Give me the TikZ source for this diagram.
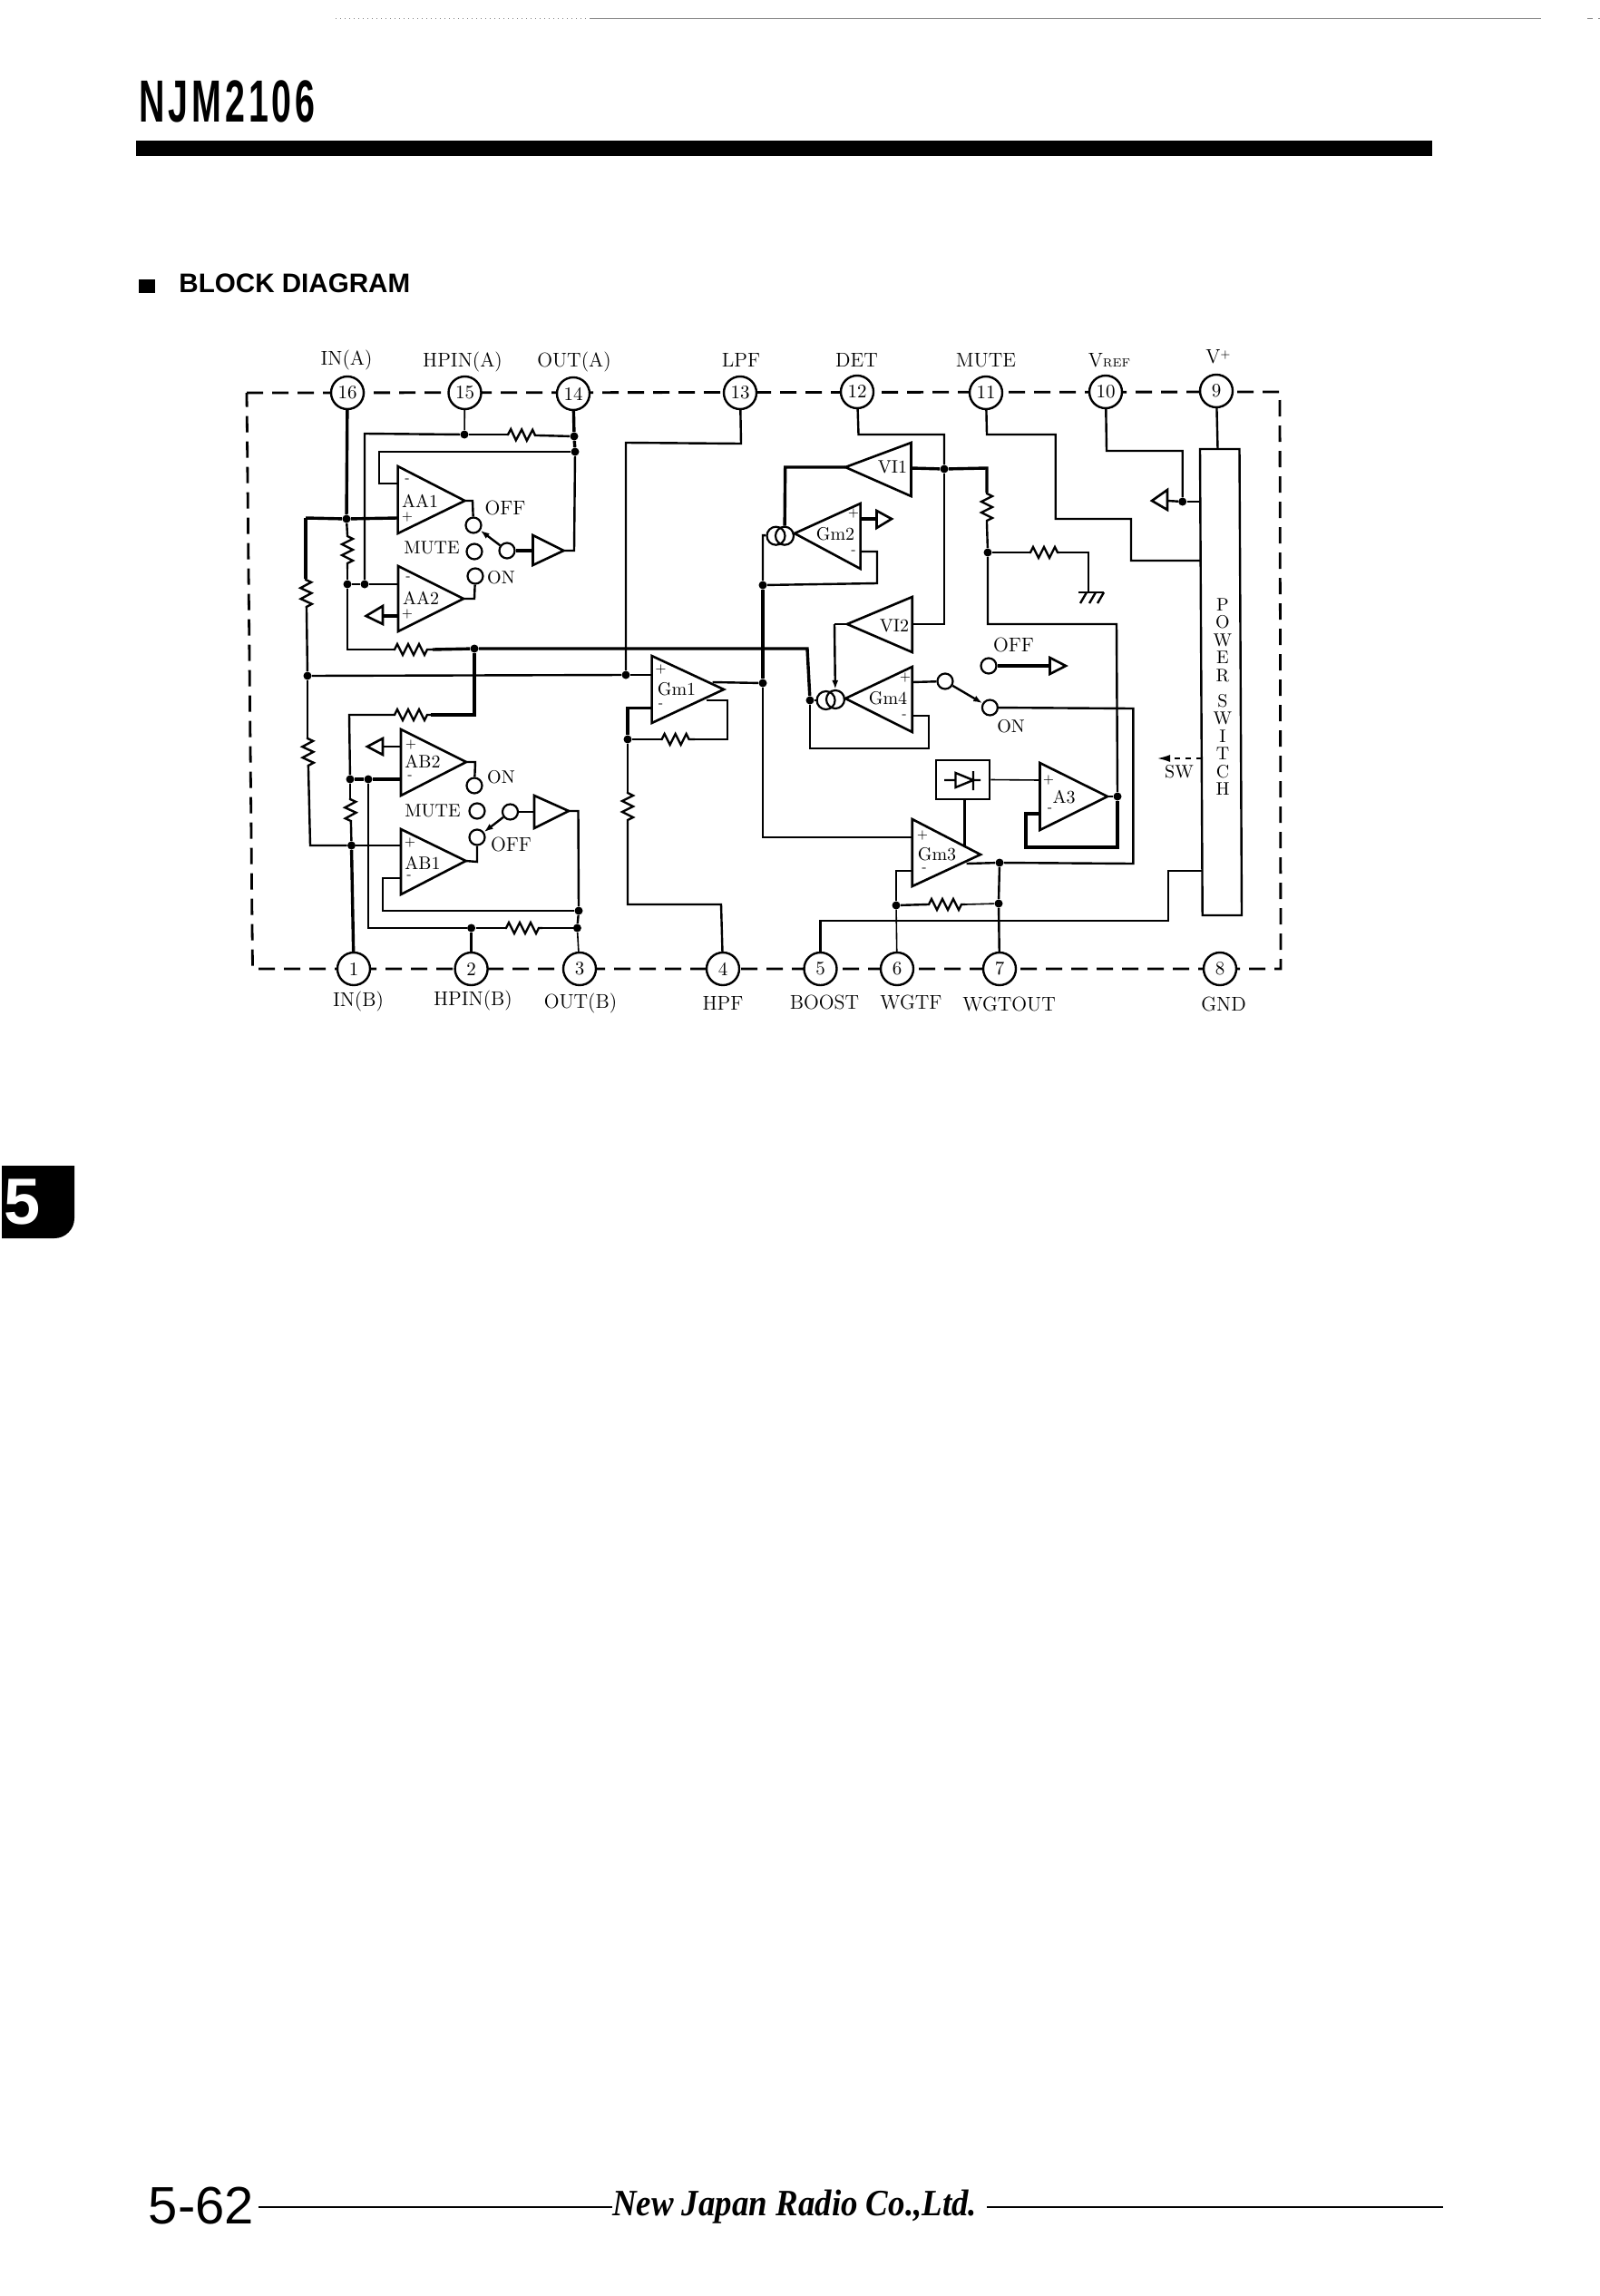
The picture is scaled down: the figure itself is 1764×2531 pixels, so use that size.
\documentclass[tikz,border=0pt]{standalone}
\usepackage{fontspec}
\usepackage{graphicx}
\usetikzlibrary{arrows.meta,decorations.pathmorphing}
\newfontfamily\hfont{Liberation Sans}
\newfontfamily\sfont{Liberation Serif}
\tikzset{
  wire/.style={line width=1.2pt,line join=miter},
  thick wire/.style={line width=1.7pt},
  thin wire/.style={line width=0.8pt},
  border/.style={line width=1.4pt,dash pattern=on 9pt off 5pt},
  pinnode/.style={circle,draw,line width=1.2pt,fill=white,minimum size=18pt,inner sep=0pt,font=\fontsize{10.5}{10.5}\selectfont},
  term/.style={circle,draw,line width=1.1pt,fill=white,minimum size=8.5pt,inner sep=0pt},
  dubl/.style={circle,draw,line width=1.1pt,minimum size=10pt,inner sep=0pt},
  jdot/.style={circle,fill,inner sep=0pt,minimum size=4.5pt},
  lbl/.style={inner sep=0pt,font=\fontsize{10}{10}\selectfont},
  pinlbl/.style={inner sep=0pt,font=\fontsize{11}{11}\selectfont},
  sgn/.style={inner sep=0pt,font=\fontsize{7}{7}\selectfont},
  ampst/.style={line width=1.3pt,line join=miter},
  resst/.style={wire,decorate,decoration={zigzag,segment length=6pt,amplitude=3pt,pre length=0.5pt,post length=0.5pt}},
  swarrow/.style={wire,-{Latex[length=5pt,width=3.5pt]}},
}
\newcommand\ampl[6]{\coordinate (#1t) at (#2,#3);\coordinate (#1b) at (#2,#4);\coordinate (#1o) at (#5,#6);\draw[ampst] (#1t) -- (#1b) -- (#1o) -- cycle;}
\begin{document}
\begin{tikzpicture}[x=0.5pt,y=-0.5pt]
\useasboundingbox (0,0) rectangle (1764,2531);
% page furniture
\fill[white] (0,0) rectangle (1764,2531);
\coordinate (topa) at (370,21);\coordinate (topb) at (650,21);\coordinate (topc) at (1699,21);
\coordinate (topd) at (1750,21);\coordinate (tope) at (1764,21);
\draw[line width=0.5pt,gray,dotted] (topa) -- (topb);
\draw[line width=0.5pt,gray] (topb) -- (topc);
\draw[line width=0.5pt,gray,dashed] (topd) -- (tope);
\node[anchor=center,inner sep=0pt] (title) at (250.5,112) {\scalebox{0.6}[1]{\hfont\addfontfeature{LetterSpace=10}\bfseries\fontsize{32.8}{33}\selectfont NJM2106}};
\fill (150,155) rectangle (1579,172);
\fill (153,308) rectangle (171,323);
\node[anchor=west,inner sep=0pt] (blockd) at (197,312) {\hfont\bfseries\fontsize{14.8}{15}\selectfont BLOCK DIAGRAM};
\fill (2,1285) -- (82,1285) -- (82,1343) arc[start angle=0,end angle=90,radius=22] -- (2,1365) -- cycle;
\node[text=white,inner sep=0pt] (tab) at (25,1325) {\hfont\bfseries\fontsize{36}{36}\selectfont 5};
\node[inner sep=0pt] (pageno) at (222,2432) {\hfont\fontsize{29}{30}\selectfont 5-62};
\node[inner sep=0pt] (njrc) at (876,2433) {\scalebox{0.9}[1]{\sfont\bfseries\itshape\fontsize{20.5}{22}\selectfont New Japan Radio Co.,Ltd.}};
\draw[line width=1.2pt] (pageno.east) ++(5,1) -- (njrc.west);
\coordinate (foota) at (1088,2433);\coordinate (footend) at (1591,2433);
\draw[line width=1.2pt] (foota) -- (footend);
% package outline
\coordinate (ctl) at (272,433);\coordinate (ctr) at (1411,432);\coordinate (cbr) at (1412,1068);\coordinate (cbl) at (278.5,1068);
\draw[border] (ctl) -- (ctr) -- (cbr) -- (cbl) -- cycle;
% pins
\node[pinnode] (p16) at (383,433) {16};
\node[pinnode] (p15) at (512.5,433) {15};
\node[pinnode] (p14) at (632,434) {14};
\node[pinnode] (p13) at (816,433) {13};
\node[pinnode] (p12) at (945,432) {12};
\node[pinnode] (p11) at (1087,433) {11};
\node[pinnode] (p10) at (1219,432) {10};
\node[pinnode] (p9) at (1341,431) {9};
\node[pinnode] (p1) at (390,1068) {1};
\node[pinnode] (p2) at (519.6,1068) {2};
\node[pinnode] (p3) at (639,1068) {3};
\node[pinnode] (p4) at (797,1068) {4};
\node[pinnode] (p5) at (904.5,1068) {5};
\node[pinnode] (p6) at (989,1068) {6};
\node[pinnode] (p7) at (1102,1068) {7};
\node[pinnode] (p8) at (1345,1068) {8};
\node[pinlbl] (t16) at (382,397) {IN(A)};
\node[pinlbl] (t15) at (510,399) {HPIN(A)};
\node[pinlbl] (t14) at (633,399) {OUT(A)};
\node[pinlbl] (t13) at (817,397) {LPF};
\node[pinlbl] (t12) at (944.5,397) {DET};
\node[pinlbl] (t11) at (1087,397) {MUTE};
\node[pinlbl] (t10) at (1223,397) {V{\fontsize{6.5}{7}\selectfont REF}};
\node[pinlbl] (t9) at (1343,393) {V\raisebox{3pt}{\fontsize{6}{6}\selectfont +}};
\node[pinlbl] (t1) at (395,1104) {IN(B)};
\node[pinlbl] (t2) at (521.4,1103) {HPIN(B)};
\node[pinlbl] (t3) at (640,1106) {OUT(B)};
\node[pinlbl] (t4) at (797,1106) {HPF};
\node[pinlbl] (t5) at (909,1105) {BOOST};
\node[pinlbl] (t6) at (1004.5,1105) {WGTF};
\node[pinlbl] (t7) at (1112.7,1107) {WGTOUT};
\node[pinlbl] (t8) at (1349,1107) {GND};
% amplifiers
\ampl{aaa}{438.6}{514}{588}{512.5}{552}
\ampl{aab}{439}{624}{696}{511}{660}
\ampl{bufa}{587.5}{590}{623}{621.4}{607}
\ampl{abb}{442}{804}{877}{514}{840}
\ampl{aba}{442}{914}{986}{513.6}{949}
\ampl{bufb}{589}{877}{913}{627}{894}
\ampl{gma}{718.6}{723}{797}{798}{760}
\ampl{via}{1004.5}{488}{547}{932}{515}
\ampl{gmb}{948.6}{555}{627}{876}{588}
\ampl{vib}{1005.7}{658}{719}{934}{688}
\ampl{gmd}{1005.7}{735}{807}{932}{770}
\ampl{atr}{1146.5}{841}{915}{1221}{878}
\ampl{gmc}{1005.7}{903}{977}{1081}{942}
\node[lbl] (laaa) at (463,552) {AA1};
\node[lbl] (laab) at (464,659) {AA2};
\node[lbl] (labb) at (466,839) {AB2};
\node[lbl] (laba) at (466,951) {AB1};
\node[lbl] (lgma) at (746,760) {Gm1};
\node[lbl] (lgmb) at (921,589) {Gm2};
\node[lbl] (lgmc) at (1033,942) {Gm3};
\node[lbl] (lgmd) at (979,770) {Gm4};
\node[lbl] (lvia) at (984,515) {VI1};
\node[lbl] (lvib) at (986,690) {VI2};
\node[lbl] (latr) at (1173,879) {A3};
\foreach \n/\x/\y/\s in {sa/449/530/-,sb/449/570/+,sc/450/638/-,sd/449/677/+,se/453/821/+,sf/452/857/-,sg/452/929/+,sh/451/967/-,si/728.6/738/+,sj/728.6/778/-,sk/941/566/+,sl/941/609/-,sm/998/747/+,sn/997/790/-,so/1156/860/+,sp/1157.5/893/-,sq/1017/921/+,sr/1019/959/-}
  \node[sgn] (\n) at (\x,\y) {\s};
% switch terminals and labels
\node[term] (aoff) at (522,579) {};
\node[term] (amid) at (559,607) {};
\node[term] (amut) at (523,608) {};
\node[term] (aon) at (524,635) {};
\node[pinlbl] (taoff) at (557,560) {OFF};
\node[lbl] (tamut) at (476,604) {MUTE};
\node[lbl] (taon) at (552.5,637) {ON};
\node[term] (bon) at (523,866) {};
\node[term] (bmut) at (526,894) {};
\node[term] (bmid) at (562.5,895) {};
\node[term] (boff) at (526,923) {};
\node[lbl] (tbon) at (552.5,857) {ON};
\node[lbl] (tbmut) at (477,894) {MUTE};
\node[pinlbl] (tboff) at (563.6,931) {OFF};
\node[term] (dmid) at (1042,751) {};
\node[term] (don) at (1091.4,780) {};
\node[term] (doff) at (1090,734) {};
\node[pinlbl] (tdoff) at (1117.5,711) {OFF};
\node[lbl] (tdon) at (1114.7,801) {ON};
% internal reference triangles
\coordinate (ra1) at (403.6,679);\coordinate (ra2) at (422,668);\coordinate (ra3) at (422,688);
\draw[ampst] (ra1) -- (ra2) -- (ra3) -- cycle;
\coordinate (rb1) at (405,823);\coordinate (rb2) at (422,814);\coordinate (rb3) at (422,832);
\draw[ampst] (rb1) -- (rb2) -- (rb3) -- cycle;
\coordinate (rc1) at (983,572);\coordinate (rc2) at (966.5,563);\coordinate (rc3) at (966.5,582);
\draw[ampst] (rc1) -- (rc2) -- (rc3) -- cycle;
\coordinate (rd1) at (1270,552);\coordinate (rd2) at (1287,540);\coordinate (rd3) at (1287,562);
\draw[ampst] (rd1) -- (rd2) -- (rd3) -- cycle;
\coordinate (re1) at (1175,734);\coordinate (re2) at (1157.5,725);\coordinate (re3) at (1157.5,743);
\draw[ampst] (re1) -- (re2) -- (re3) -- cycle;
% power switch
\coordinate (pwa) at (1323,495);\coordinate (pwb) at (1366.5,495);\coordinate (pwc) at (1369,1009);\coordinate (pwd) at (1325.7,1009);
\draw[wire] (pwa) -- (pwb) -- (pwc) -- (pwd) -- cycle;
\node[inner sep=0pt,align=center,font=\fontsize{10}{9.75}\selectfont] (pwt) at (1348,768) {P\\O\\W\\E\\R\\[4.25pt]S\\W\\I\\T\\C\\H};
\coordinate (pwtop) at (1342.5,495);
\draw[wire] (p9) -- (pwtop);
\node[lbl] (tsw) at (1300,851) {SW};
\coordinate (swa) at (1325,836);\coordinate (swb) at (1276,836);
\draw[thin wire,dashed,-{Latex[length=7pt,width=4pt]}] (swa) -- (swb);
% junction dots
\node[jdot] (ja) at (382,572) {};
\node[jdot] (jb) at (383,644) {};
\node[jdot] (jc) at (402,644) {};
\node[jdot] (jd) at (512,479) {};
\node[jdot] (je) at (633,481) {};
\node[jdot] (jf) at (634,498) {};
\node[jdot] (jg) at (523,715) {};
\node[jdot] (jh) at (339,745) {};
\node[jdot] (ji) at (690,744) {};
\node[jdot] (jj) at (386,859) {};
\node[jdot] (jk) at (406,859) {};
\node[jdot] (jl) at (387.5,932) {};
\node[jdot] (jm) at (519.6,1023) {};
\node[jdot] (jn) at (636.4,1023) {};
\node[jdot] (jo) at (638,1004) {};
\node[jdot] (jp) at (692,815) {};
\node[jdot] (jq) at (841,753) {};
\node[jdot] (jr) at (841,645) {};
\node[jdot] (js) at (1041,517) {};
\node[jdot] (jt) at (1089,609) {};
\node[jdot] (ju) at (1232,878) {};
\node[jdot] (jv) at (893,772) {};
\node[jdot] (jw) at (1102,951) {};
\node[jdot] (jx) at (1101,996) {};
\node[jdot] (jy) at (988,998) {};
\node[jdot] (jz) at (1303.7,553) {};
% double current-source circles
\node[dubl] (cba) at (855.5,590.7) {};
\node[dubl] (cbb) at (865,590.7) {};
\node[dubl] (cda) at (910.6,772) {};
\node[dubl] (cdb) at (921,771) {};
% resistors
\coordinate (raa) at (383,590);\coordinate (rab) at (383,627);
\coordinate (rba) at (434,716);\coordinate (rbb) at (477,716);
\coordinate (rca) at (559,479);\coordinate (rcb) at (593,480);
\coordinate (rda) at (337,638);\coordinate (rdb) at (338,672);
\coordinate (rea) at (434,788);\coordinate (reb) at (475,788);
\coordinate (rfa) at (339,813);\coordinate (rfb) at (340,848);
\coordinate (rga) at (386,880);\coordinate (rgb) at (387,910);
\coordinate (rha) at (557,1023);\coordinate (rhb) at (598,1023);
\coordinate (ria) at (692,873);\coordinate (rib) at (692,907);
\coordinate (rja) at (728.6,815);\coordinate (rjb) at (766,815);
\coordinate (rka) at (1088,543);\coordinate (rkb) at (1088,577);
\coordinate (rla) at (1135,609);\coordinate (rlb) at (1168,609);
\coordinate (rma) at (1023,997);\coordinate (rmb) at (1064,997);
\foreach \a/\b in {raa/rab,rba/rbb,rca/rcb,rda/rdb,rea/reb,rfa/rfb,rga/rgb,rha/rhb,ria/rib,rja/rjb,rka/rkb,rla/rlb,rma/rmb}
  \draw[resst] (\a) -- (\b);
% section A wiring
\draw[thick wire] (p16) -- (ja);
\draw[wire] (ja) -- (raa);
\draw[wire] (rab) -- (jb);
\draw[wire] (jb) -- (383,716) -- (rba);
\draw[thick wire] (rbb) -- (jg);
\draw[thick wire] (jg) -- (890,715) -- (jv);
\draw[wire] (jb) -- (jc);
\draw[wire] (jc) -- (402,478) -- (jd);
\draw[thin wire] (p15) -- (jd);
\draw[wire] (jd) -- (rca);
\draw[wire] (rcb) -- (je);
\draw[thick wire] (p14) -- (je);
\draw[thick wire] (je) -- (jf);
\draw[wire] (jf) -- (418,498) -- (418,533) -- (438.6,533);
\draw[wire] (jc) -- (439,644);
\draw[thick wire] (337,571) -- (ja);
\draw[thick wire] (ja) -- (438.6,571);
\draw[thick wire] (337,571) -- (rda);
\draw[wire] (rdb) -- (jh);
\draw[wire] (aaao) -- (521,552) -- (aoff);
\draw[swarrow] (amid) -- (aoff);
\draw[thick wire] (amid) -- (587.5,607);
\draw[wire] (bufao) -- (633,607) -- (jf);
\draw[wire] (aabo) -- (523,660) -- (aon);
\draw[thick wire] (ra2|-ra1) -- (439,679);
% bus to Gm1
\draw[wire] (jh) -- (ji);
\draw[wire] (ji) -- (718.6,744);
\draw[wire] (ji) -- (690,488) -- (817,489) -- (p13);
% section B wiring
\draw[thick wire] (jg) -- (523,788) -- (reb);
\draw[wire] (rea) -- (385,788) -- (jj);
\draw[wire] (jh) -- (rfa);
\draw[wire] (rfb) -- (342,932) -- (jl);
\draw[thin wire] (jl) -- (442,932);
\draw[thick wire] (jj) -- (jk);
\draw[thick wire] (jk) -- (442,859);
\draw[wire] (jj) -- (rga);
\draw[wire] (rgb) -- (jl);
\draw[thick wire] (jl) -- (p1);
\draw[wire] (jk) -- (406,1023) -- (jm);
\draw[wire] (jm) -- (rha);
\draw[wire] (rhb) -- (jn);
\draw[thick wire] (jm) -- (p2);
\draw[thin wire] (jn) -- (p3);
\draw[wire] (bufbo) -- (637.5,894) -- (jo);
\draw[wire] (jo) -- (jn);
\draw[wire] (442,968) -- (422,968) -- (422,1004) -- (jo);
\draw[wire] (abbo) -- (524,840) -- (bon);
\draw[wire] (abao) -- (526,950) -- (boff);
\draw[swarrow] (bmid) -- (boff);
\draw[wire] (bmid) -- (589,895);
\draw[wire] (rb2|-rb1) -- (442,823);
% Gm1 feedback and HPF
\draw[thick wire] (718.6,780.6) -- (692,780.6) -- (jp);
\draw[wire] (jp) -- (rja);
\draw[wire] (rjb) -- (802,815) -- (802,772) -- (778.6,772);
\draw[wire] (jp) -- (ria);
\draw[wire] (rib) -- (692,997) -- (795,997) -- (p4);
\draw[wire] (785.7,752) -- (jq);
% main vertical
\draw[wire] (cba) -- (841,590) -- (jr);
\draw[thick wire] (jr) -- (jq);
\draw[wire] (jq) -- (841,923) -- (1005.7,923);
\draw[wire] (jr) -- (967,643) -- (967,608) -- (948.6,608);
% VI1, Gm2
\draw[thick wire] (viao) -- (865.7,515) -- (cbb);
\draw[wire] (p12) -- (946.5,479) -- (1041,479) -- (js);
\draw[wire] (js) -- (1041,688) -- (1005.7,688);
\draw[thick wire] (1004.5,516) -- (js);
\draw[thick wire] (js) -- (1088,516) -- (rka);
\draw[wire] (rkb) -- (jt);
\draw[wire] (jt) -- (rla);
\draw[wire] (rlb) -- (1200,609) -- (1200,653);
\draw[thick wire] (948.6,572) -- (rc2|-rc1);
\coordinate (gnda) at (1189,653);\coordinate (gndb) at (1217,653);
\draw[wire] (gnda) -- (gndb);
\draw[wire] (1198,653) -- (1191,665) (1208,653) -- (1201,665) (1217,653) -- (1210,665);
% VI2, Gm4
\draw[wire] (vibo) -- (920,688);
\draw[wire,-{Latex[length=5pt,width=3.5pt]}] (920,688) -- (cdb);
\draw[wire] (jv) -- (cda);
\draw[wire] (1005.7,752) -- (dmid);
\draw[swarrow] (dmid) -- (don);
\draw[wire] (1005.7,789) -- (1023.7,789) -- (1023.7,825) -- (893,825) -- (jv);
\draw[thick wire] (doff) -- (re2|-re1);
% mute and feedback
\draw[wire] (jt) -- (1089,688) -- (1231,688) -- (ju);
\draw[thick wire] (ju) -- (1232,934) -- (1131,934) -- (1131,897) -- (1146.5,897);
\draw[wire] (atro) -- (ju);
\draw[wire] (p11) -- (1088,479) -- (1163.7,479) -- (1163.7,572) -- (1247,572) -- (1247,618) -- (1324,618);
\draw[wire] (p10) -- (1220,497) -- (1303.7,497) -- (jz);
\draw[wire] (rd2|-rd1) -- (jz);
\draw[wire] (jz) -- (1323,553);
\draw[wire] (don) -- (1249.4,781) -- (1249.4,952) -- (jw);
\draw[wire] (jw) -- (1065.7,952);
\draw[wire] (jw) -- (jx);
\draw[wire] (jx) -- (p7);
\draw[thin wire] (jx) -- (rmb);
\draw[wire] (rma) -- (jy);
\draw[wire] (1005.7,960) -- (988,960) -- (jy);
\draw[thin wire] (jy) -- (p6);
\draw[wire] (p5) -- (904.5,1015) -- (1288,1015) -- (1288,960) -- (1325.7,960);
% diode box
\node[draw,line width=1.3pt,minimum width=29.5pt,minimum height=21.5pt,inner sep=0pt] (dbox) at (1061.5,859.5) {};
\coordinate (da) at (1041,860);\coordinate (db) at (1053.5,860);\coordinate (dc) at (1073,860);\coordinate (dd) at (1081,860);
\coordinate (de) at (1053.5,852);\coordinate (df) at (1053.5,868);\coordinate (dg) at (1073,850);\coordinate (dh) at (1073,871);
\draw[wire] (da) -- (db) (de) -- (df) -- (dc) -- cycle (dg) -- (dh) (dc) -- (dd);
\draw[thin wire] (dbox.east) -- (1146.5,860);
\draw[wire] (dbox.south) ++(2,0) -- (1063.5,932);
\end{tikzpicture}
\end{document}
